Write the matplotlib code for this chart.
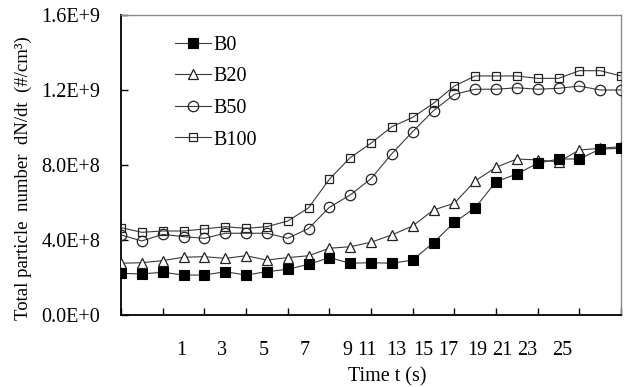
import matplotlib
matplotlib.use("Agg")
import matplotlib.pyplot as plt
import numpy as np

# ---- data ----
time_s = [1, 2, 3, 4, 5, 6, 7, 8, 9, 10, 11, 12, 13, 14, 15, 16, 17, 18, 19, 20, 21, 22, 23, 24, 25]

b0 = [2.22e8, 2.19e8, 2.28e8, 2.13e8, 2.13e8, 2.31e8, 2.13e8, 2.31e8, 2.44e8, 2.70e8,
      3.06e8, 2.76e8, 2.79e8, 2.76e8, 2.93e8, 3.86e8, 4.94e8, 5.72e8, 7.11e8, 7.52e8,
      8.09e8, 8.32e8, 8.32e8, 8.85e8, 8.89e8]
b20 = [2.76e8, 2.79e8, 2.90e8, 3.08e8, 3.11e8, 3.02e8, 3.16e8, 2.93e8, 3.06e8, 3.16e8,
       3.56e8, 3.64e8, 3.88e8, 4.27e8, 4.75e8, 5.60e8, 5.96e8, 7.15e8, 7.88e8, 8.32e8,
       8.27e8, 8.16e8, 8.80e8, 8.89e8, 8.98e8]
b50 = [4.27e8, 3.95e8, 4.30e8, 4.18e8, 4.09e8, 4.36e8, 4.36e8, 4.36e8, 4.09e8, 4.61e8,
       5.74e8, 6.40e8, 7.27e8, 8.60e8, 9.78e8, 1.09e9, 1.177e9, 1.204e9, 1.204e9, 1.212e9,
       1.204e9, 1.209e9, 1.221e9, 1.20e9, 1.20e9]
b100 = [4.66e8, 4.41e8, 4.48e8, 4.48e8, 4.59e8, 4.71e8, 4.62e8, 4.71e8, 5.01e8, 5.71e8,
        7.24e8, 8.39e8, 9.16e8, 1.004e9, 1.054e9, 1.129e9, 1.221e9, 1.275e9, 1.275e9, 1.275e9,
        1.262e9, 1.262e9, 1.303e9, 1.303e9, 1.275e9]

series_names = ["B0", "B20", "B50", "B100"]

y_ticks = [0.0, 4.0e8, 8.0e8, 1.2e9, 1.6e9]
y_tick_labels = ["0.0E+0", "4.0E+8", "8.0E+8", "1.2E+9", "1.6E+9"]

x_tick_marks = [1, 3, 5, 7, 9, 11, 13, 15, 17, 19, 21, 23, 25]
x_label_text = ["1", "3", "5", "7", "9", "11", "13", "15", "17", "19", "21", "23", "25"]
x_label_pos = [3.88, 5.85, 7.87, 9.83, 11.85, 12.8, 14.2, 15.5, 16.7, 18.1, 19.3, 20.5, 22.2]

# ---- figure ----
plt.rcParams['font.family'] = ['Liberation Serif', 'DejaVu Serif']
fig = plt.figure(figsize=(6.29, 3.87), dpi=100)
ax = fig.add_axes([121/629, 1 - 315/387, 500/629, 300/387])

line_col = "#3a3a3a"
lw = 0.8
h100, = ax.plot(time_s, b100, color=line_col, lw=lw, marker='s', ms=6.2,
                mfc='none', mec='#222222', mew=0.9, label=series_names[3], zorder=3)
h50, = ax.plot(time_s, b50, color=line_col, lw=lw, marker='o', ms=7.5,
               mfc='none', mec='#222222', mew=0.9, label=series_names[2], zorder=4)
h20, = ax.plot(time_s, b20, color=line_col, lw=lw, marker='^', ms=7.5,
               mfc='white', mec='#222222', mew=0.9, label=series_names[1], zorder=5)
h0, = ax.plot(time_s, b0, color=line_col, lw=lw, marker='s', ms=7.2,
              mfc='black', mec='black', mew=0.8, label=series_names[0], zorder=6)

ax.set_xlim(1, 25)
ax.set_ylim(0, 1.6e9)

ax.set_yticks(y_ticks)
ax.set_yticklabels(y_tick_labels)
ax.tick_params(axis='y', direction='in', length=5, width=1, pad=15, labelsize=14.5)

ax.set_xticks(x_tick_marks)
ax.set_xticklabels([])
ax.tick_params(axis='x', which='major', direction='in', length=5, width=1)
ax.set_xticks(x_label_pos, minor=True)
ax.set_xticklabels(x_label_text, minor=True)
ax.tick_params(axis='x', which='minor', length=0, pad=19, labelsize=14.5)

for s in ['left', 'bottom']:
    ax.spines[s].set_color('black')
    ax.spines[s].set_linewidth(1.3)
for s in ['top', 'right']:
    ax.spines[s].set_color('#8a8a8a')
    ax.spines[s].set_linewidth(1.0)

fig.text(387/629, 1 - 377/387, "Time t (s)", ha='center', va='center', fontsize=14.5)
fig.text(23/629, 1 - 178/387, "Total particle  number  dN/dt  (#/cm³)", rotation=90,
         ha='center', va='center', fontsize=13.5)

leg = ax.legend(handles=[h0, h20, h50, h100], loc='upper left',
                bbox_to_anchor=(0.091, 0.958), frameon=False, fontsize=14.5,
                handlelength=1.8, handletextpad=0.12, labelspacing=0.62,
                borderaxespad=0.0)

fig.savefig("out.png", dpi=100)
